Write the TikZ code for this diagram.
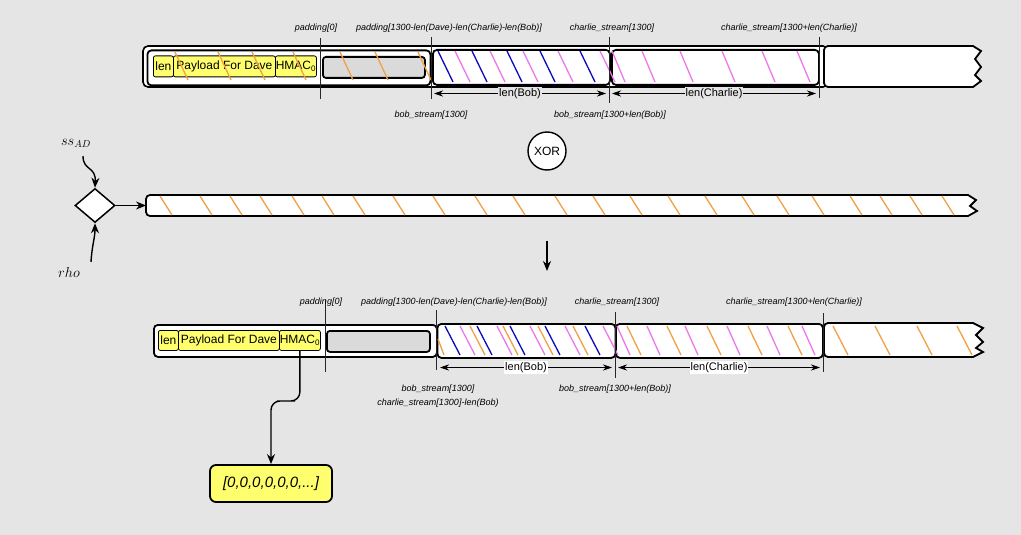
\documentclass[tikz,border=0pt]{standalone}
\usepackage{fontspec}
\setsansfont{Liberation Sans}
\usetikzlibrary{shapes.geometric,arrows.meta}
\definecolor{bg}{RGB}{229,229,229}
\definecolor{hor}{RGB}{242,160,70}
\definecolor{hpk}{RGB}{236,120,236}
\definecolor{hbl}{RGB}{10,10,190}
\definecolor{yel}{RGB}{255,255,110}
\definecolor{gbox}{RGB}{218,218,218}
\newcommand{\hatchlines}[5]{\foreach \hx in {#5}{\draw[draw=#1, line width=1.3pt] (\hx,#2) -- ({\hx+#4},#3);}}
\begin{document}
\begin{tikzpicture}[x=1pt,y=-1pt,font=\sffamily,
  bx/.style={draw=black, line width=1.8pt, rounded corners=4pt, fill=white, inner sep=0pt, anchor=north west},
  ybox/.style={draw=black, line width=0.8pt, fill=yel, rounded corners=2pt, inner sep=0pt, anchor=north west, font=\sffamily\fontsize{12}{14}\selectfont},
  gbx/.style={draw=black, line width=1.8pt, fill=gbox, rounded corners=3pt, inner sep=0pt, anchor=north west},
  vline/.style={draw=black!85, line width=0.6pt},
  lbl/.style={font=\sffamily\itshape\fontsize{9}{11}\selectfont, inner sep=0pt},
  dimline/.style={{Stealth[length=9pt,width=6pt]}-{Stealth[length=9pt,width=6pt]}, line width=0.9pt},
  dimlbl/.style={font=\sffamily\fontsize{11}{13}\selectfont, inner sep=1pt},
  arr/.style={-{Stealth[length=10pt,width=8pt]}, line width=1.4pt},
]
\useasboundingbox (0,0) rectangle (1021,535);
\fill[bg] (0,0) rectangle (1021,535);

% ================= TOP ROW =================
\draw[line width=1.6pt, rounded corners=5pt, fill=white] (143,46) rectangle (828,87);
\draw[line width=1.8pt, fill=white] [rounded corners=4pt] (900,87) -- (824,87) -- (824,46) -- (900,46) [sharp corners] -- (973,46) -- (981,51) -- (975,59) -- (981,67) -- (975,75) -- (981,81) -- (973,87) -- cycle;
\node[bx, minimum width=283pt, minimum height=35pt] (dave1) at (146.5,49.5) {};
\node[bx, minimum width=177pt, minimum height=35pt] (bob1) at (432,49) {};
\node[bx, minimum width=207pt, minimum height=35pt] (charlie1) at (611,49) {};
\node[ybox, minimum width=20pt, minimum height=21pt] (len1) at (153,55.5) {len};
\node[ybox, minimum width=102pt, minimum height=21pt] (pay1) at (173,55.5) {Payload For Dave};
\node[ybox, minimum width=41pt, minimum height=21pt] (hmac1) at (275,55.5) {HMAC\textsubscript{0}};
\node[gbx, minimum width=102pt, minimum height=21pt] (pad1) at (322,56) {};
\hatchlines{hor}{52}{80}{13}{175,218,252,293,340,375,418}
\hatchlines{hbl}{51}{82}{15}{438,472,507,540,580}
\hatchlines{hpk}{51}{82}{15}{455,490,523,558,600}
\hatchlines{hpk}{51}{82}{13}{612,642,680,722,762,797}
\draw[vline] (320,38) -- (320,99);
\draw[vline] (431,37) -- (431,99);
\draw[vline] (609,37) -- (609,103);
\draw[vline] (819,37) -- (819,98);
\node[lbl] (t1) at (316,28) {padding[0]};
\node[lbl] (t2) at (449,28) {padding[1300-len(Dave)-len(Charlie)-len(Bob)]};
\node[lbl] (t3) at (612,28) {charlie\_stream[1300]};
\node[lbl] (t4) at (789,28) {charlie\_stream[1300+len(Charlie)]};
\node[lbl] (t5) at (431,115) {bob\_stream[1300]};
\node[lbl] (t6) at (610,115) {bob\_stream[1300+len(Bob)]};
\coordinate (ba1) at (434,93.5);
\coordinate (bb1) at (606,93.5);
\coordinate (ca1) at (612,93.5);
\coordinate (cb1) at (816,93.5);
\draw[dimline] (ba1) -- node[dimlbl, fill=bg] {len(Bob)} (bb1);
\draw[dimline] (ca1) -- node[dimlbl, fill=bg] {len(Charlie)} (cb1);

% ================= XOR =================
\node[circle, draw, line width=1.4pt, fill=white, minimum size=38pt, inner sep=0pt, font=\sffamily\fontsize{12}{14}\selectfont] (xor) at (547,151) {XOR};

% ================= MIDDLE STRIP =================
\draw[line width=1.8pt, fill=white] [rounded corners=4pt] (900,216) -- (146,216) -- (146,195) -- (900,195) [sharp corners] -- (968,195) -- (976,200) -- (970,206) -- (977,211) -- (968,216) -- cycle;
\hatchlines{hor}{196}{215}{12}{160,200,230,260,292,322,353,393,433,475,513,555,593,630,668,705,742,777,812,850,880,910,942}
\coordinate (stripL) at (146,205.5);
\node[diamond, draw, line width=1.5pt, fill=white, minimum width=40pt, minimum height=34pt, inner sep=0pt] (dia) at (95,205.5) {};
\draw[arr] (dia.east) -- (stripL);
\node[font=\fontsize{14}{16}\selectfont, inner sep=0pt] (ss) at (76,143) {$ss_{AD}$};
\node[font=\fontsize{14}{16}\selectfont, inner sep=0pt] (rho) at (69,272) {$rho$};
\coordinate (ssS) at (83,156);
\coordinate (rhoS) at (91,262);
\draw[arr] (ssS) .. controls (83,171) and (96,166) .. (dia.north);
\draw[arr] (rhoS) .. controls (92,245) and (95,238) .. (dia.south);
\coordinate (dn1) at (547,241);
\coordinate (dn2) at (547,271);
\draw[arr] (dn1) -- (dn2);

% ================= BOTTOM ROW =================
\node[bx, minimum width=283pt, minimum height=32pt] (dave2) at (153,324) {};
\node[bx, minimum width=178pt, minimum height=34pt] (bob2) at (436.5,323) {};
\node[bx, minimum width=207pt, minimum height=34pt] (charlie2) at (615,323) {};
\draw[line width=1.8pt, fill=white] [rounded corners=4pt] (900,357) -- (824,357) -- (824,323) -- (900,323) [sharp corners] -- (973,323) -- (983,328) -- (976,335) -- (983,342) -- (976,348) -- (983,352) -- (973,357) -- cycle;
\node[ybox, minimum width=20pt, minimum height=20pt] (len2) at (158,330) {len};
\node[ybox, minimum width=101pt, minimum height=20pt] (pay2) at (178,330) {Payload For Dave};
\node[ybox, minimum width=41pt, minimum height=20pt] (hmac2) at (279,330) {HMAC\textsubscript{0}};
\node[gbx, minimum width=103pt, minimum height=21pt] (pad2) at (326,330) {};
\hatchlines{hor}{339}{355}{6}{438}
\hatchlines{hor}{326}{355}{15}{470,503,538,573}
\hatchlines{hbl}{326}{355}{15}{445,477,510,545,585}
\hatchlines{hpk}{326}{355}{15}{460,497,530,565,603}
\hatchlines{hor}{326}{355}{14}{627,667,707,748,788}
\hatchlines{hpk}{326}{355}{13}{617,647,685,727,767,802}
\hatchlines{hor}{326}{355}{15}{833,875,917,957}
\draw[vline] (325,300) -- (325,372);
\draw[vline] (436,310) -- (436,370);
\draw[vline] (615,312) -- (615,378);
\draw[vline] (823,313) -- (823,372);
\node[lbl] (b1) at (321,302) {padding[0]};
\node[lbl] (b2) at (454,302) {padding[1300-len(Dave)-len(Charlie)-len(Bob)]};
\node[lbl] (b3) at (617,302) {charlie\_stream[1300]};
\node[lbl] (b4) at (794,302) {charlie\_stream[1300+len(Charlie)]};
\node[lbl] (b5) at (438,389) {bob\_stream[1300]};
\node[lbl] (b6) at (438,403) {charlie\_stream[1300]-len(Bob)};
\node[lbl] (b7) at (615,389) {bob\_stream[1300+len(Bob)]};
\coordinate (ba2) at (440,367.5);
\coordinate (bb2) at (612,367.5);
\coordinate (ca2) at (618,367.5);
\coordinate (cb2) at (820,367.5);
\draw[dimline] (ba2) -- node[dimlbl, fill=white] {len(Bob)} (bb2);
\draw[dimline] (ca2) -- node[dimlbl, fill=white] {len(Charlie)} (cb2);

% ================= OUTPUT =================
\node[draw, line width=1.8pt, fill=yel, rounded corners=6pt, minimum width=122pt, minimum height=37pt, inner sep=0pt, font=\sffamily\itshape\fontsize{15}{17}\selectfont] (out) at (271,483.5) {[0,0,0,0,0,0,...]};
\coordinate (mid) at (286,401);
\draw[arr, rounded corners=9pt] (hmac2.south) |- (mid) -| (out.north);
\end{tikzpicture}
\end{document}
